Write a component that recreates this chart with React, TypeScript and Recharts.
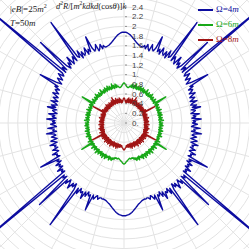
import { RadarChart, Radar, PolarGrid, PolarAngleAxis, PolarRadiusAxis } from "recharts";

// radius, clockwise from the top (0°) to the bottom (180°), every 1°
// the left half of the plot is the mirror image of this
const blueHalf = [
  1.88, 1.88, 1.87, 1.85, 1.83, 1.80, 1.77, 1.74, 1.71, 1.68, 1.66, 1.64, 1.63, 1.62, 1.62, // 0-14
  1.66, 1.60, 1.70, 1.62, 1.58, 1.73, 1.64, 1.61, 1.68, // 15-23
  1.95, // 24
  1.63, 1.70, 1.60, 1.76, 1.65, 1.62, 1.72, 1.59, 1.78, 1.64, 1.68, // 25-35
  2.57, // 36
  1.62, 1.74, 1.66, 1.60, 1.80, 1.63, 1.70, 1.58, 1.67, // 37-45
  2.4, // 46
  1.62, 1.72, 1.60, // 47-49
  3.9, // 50
  1.64, 1.58, 1.70, 1.62, 1.55, 1.66, 1.60, 1.52, 1.64, // 51-59
  2.0, // 60
  1.56, 1.62, 1.50, 1.58, 1.54, 1.48, 1.60, 1.52, 1.46, 1.56,
  1.50, 1.44, 1.58, 1.47, 1.43, 1.55, 1.45, 1.62, 1.42, 1.50,
  1.46, 1.40, 1.57, 1.44, 1.49, 1.41, 1.60, 1.43, 1.48, // 61-89
  1.42, 1.52, 1.44, 1.40, 1.58, 1.45, 1.48, 1.41, 1.62, 1.46,
  1.43, 1.53, 1.47, 1.42, 1.56, 1.49, 1.44, 1.60, 1.48, 1.52,
  1.46, 1.58, 1.50, 1.47, 1.62, 1.52, 1.55, 1.49, // 90-117
  1.95, // 118
  1.54, 1.60, 1.52, 1.66, 1.57, 1.62, 1.55, 1.70, 1.59, 1.64, 1.58, // 119-129
  3.9, // 130
  1.64, 1.70, 1.62, // 131-133
  2.43, // 134
  1.66, 1.74, 1.61, 1.68, 1.78, 1.63, 1.70, 1.60, 1.72, // 135-143
  2.6, // 144
  1.65, 1.76, 1.62, 1.70, 1.66, 1.80, 1.63, 1.72, 1.60, 1.68, 1.64, // 145-155
  1.97, // 156
  1.62, 1.70, 1.64, 1.60, 1.67, 1.63, 1.62, 1.64, 1.63, // 157-165
  1.64, 1.65, 1.67, 1.69, 1.71, 1.74, 1.77, 1.80, 1.83, 1.86, 1.88, 1.90, 1.91, 1.92, 1.92, // 166-180
];
const greenHalf = [
  0.83, 0.82, 0.80, 0.78, 0.76, 0.75, 0.74, 0.74, 0.75, 0.77, 0.76, // 0-10
  0.80, 0.75, 0.83, 0.77, 0.74, 0.81, 0.76, 0.85, 0.75, 0.79,
  0.74, 0.82, 0.77, 0.75, 0.84, 0.76, 0.80, 0.74, 0.83, 0.77,
  0.75, 0.81, 0.74, 0.79, 0.76, 0.85, 0.75, 0.78, 0.74, 0.82,
  0.76, 0.74, 0.80, 0.75, 0.84, 0.76, 0.79, 0.74, 0.81, 0.75,
  0.77, 0.74, 0.82, 0.75, 0.78, 0.73, 0.80, // 11-57
  1.02, // 58
  0.75, 0.79, 0.73, 0.81, 0.75, 0.77, 0.73, 0.80, 0.74, 0.78,
  0.73, 0.82, 0.74, 0.76, 0.73, 0.80, 0.74, 0.79, 0.72, 0.81,
  0.74, 0.77, 0.73, 0.80, 0.74, 0.78, 0.72, 0.82, 0.74, 0.76,
  0.73, 0.80, 0.74, 0.79, 0.73, 0.81, 0.75, 0.77, 0.73, 0.80,
  0.74, 0.78, 0.73, 0.82, 0.75, 0.77, 0.74, 0.81, 0.75, 0.79,
  0.74, 0.83, 0.75, 0.78, 0.74, 0.80, 0.76, 0.79, 0.75, 0.84,
  0.76, 0.78, 0.75, // 59-121
  1.03, // 122
  0.76, 0.82, 0.75, 0.79, 0.77, 0.85, 0.76, 0.80, 0.75, 0.83,
  0.77, 0.79, 0.76, 0.86, 0.75, 0.81, 0.77, 0.84, 0.76, 0.80,
  0.75, 0.83, 0.78, 0.76, 0.85, 0.77, 0.80, 0.75, 0.84, 0.76,
  0.81, 0.77, 0.79, 0.75, 0.83, 0.76, 0.80, 0.77, 0.82, 0.76,
  0.79, 0.75, 0.77, 0.74, 0.75, 0.74, 0.76, // 123-169
  0.75, 0.74, 0.75, 0.76, 0.77, 0.78, 0.80, 0.81, 0.83, 0.84, 0.85, // 170-180
];
const redHalf = [
  0.52, 0.51, 0.49, 0.46, 0.44, 0.43, 0.47, 0.42, 0.50, 0.44,
  0.46, 0.53, 0.43, 0.48, 0.45, 0.51, 0.44, 0.49, 0.43, 0.54,
  0.45, 0.50, 0.44, 0.47, 0.52, 0.43, 0.58, 0.45, 0.49, 0.44,
  0.53, 0.46, 0.43, 0.50, 0.45, 0.48, 0.43, 0.52, 0.44, 0.47,
  0.43, 0.51, 0.45, 0.48, 0.42, 0.53, 0.44, 0.49, 0.43, 0.46,
  0.51, 0.44, 0.48, 0.42, 0.50, 0.45, 0.47, 0.43, 0.52, 0.44,
  0.48, 0.45, // 0-61
  0.72, // 62
  0.46, 0.43, 0.49, 0.42, 0.47, 0.44, 0.51, 0.42, 0.46, 0.43,
  0.50, 0.44, 0.42, 0.48, 0.43, 0.52, 0.42, 0.46, 0.44, 0.49,
  0.42, 0.47, 0.43, 0.51, 0.44, 0.45, 0.42, 0.50, 0.43, 0.47,
  0.44, 0.52, 0.42, 0.48, 0.45, 0.43, 0.50, 0.44, 0.47, 0.43,
  0.53, 0.45, 0.48, 0.44, 0.51, 0.46, 0.43, 0.49, 0.45, 0.54,
  0.44, 0.48, 0.46, 0.52, 0.45, // 63-117
  0.74, // 118
  0.47, 0.50, 0.45, 0.54, 0.46, 0.49, 0.44, 0.55, 0.47, 0.50,
  0.45, 0.53, 0.46, 0.48, 0.44, 0.56, 0.47, 0.51, 0.45, 0.54,
  0.46, 0.50, 0.44, 0.55, 0.47, 0.52, 0.45, 0.49, 0.46, 0.56,
  0.45, 0.51, 0.47, 0.53, 0.44, 0.50, 0.46, 0.54, 0.45, 0.49,
  0.47, 0.52, 0.44, 0.55, 0.46, 0.50, 0.45, 0.53, 0.47, 0.49,
  0.45, 0.51, 0.46, 0.48, 0.50, 0.47, 0.49, 0.51, 0.52, 0.54,
  0.55, 0.56, // 119-180
];

const radiusTicks = [
  0, 0.2, 0.4, 0.6, 0.8, 1, 1.2, 1.4, 1.6, 1.8, 2, 2.2, 2.4,
  2.6, 2.8, 3, 3.2, 3.4, 3.6, 3.8, 4,
];
const gridAngles = [0, 15, 30, 45, 60, 75, 90, 105, 120, 135, 150, 165, 180, 195, 210, 225, 240, 255, 270, 285, 300, 315, 330, 345];

const series = [
  { key: "blue", name: "Ω=4m", color: "#0c0ca0" },
  { key: "green", name: "Ω=6m", color: "#18a818" },
  { key: "red", name: "Ω=8m", color: "#a01414" },
];

const data = Array.from({ length: 360 }, (_, a) => {
  const h = a <= 180 ? a : 360 - a;
  return { angle: a, blue: blueHalf[h], green: greenHalf[h], red: redHalf[h] };
});

const R_MAX = 4;
const OUTER = 193.2; // 48.3px per unit
const SIZE = 420;
const CX = 124;
const CY = 123;

function fmt(v: number) {
  if (v === 0) return "0.";
  if (v === 1) return "1.";
  if (v === 2) return "2";
  return v.toFixed(1);
}

const RadiusTick = (props: any) => {
  const { x, y, payload } = props;
  const v = payload.value;
  if (v > 2.45) return <g />;
  return (
    <g>
      <line x1={x + 1} x2={x + 3} y1={y} y2={y} stroke="#777" strokeWidth={0.8} />
      <text x={x + 8} y={y} dy="0.33em" fontSize={8} fill="#444" fontFamily="Liberation Sans, Arial, sans-serif">
        {fmt(v)}
      </text>
    </g>
  );
};

const serif = "'Liberation Serif', 'Times New Roman', serif";

export default function App() {
  return (
    <div style={{ position: "fixed", left: 0, top: 0, width: 249, height: 249, overflow: "hidden", background: "#fff" }}>
      <div style={{ position: "absolute", left: CX - SIZE / 2, top: CY - SIZE / 2 }}>
        <RadarChart
          width={SIZE}
          height={SIZE}
          data={data}
          outerRadius={OUTER}
          startAngle={90}
          endAngle={-270}
          margin={{ top: 0, right: 0, bottom: 0, left: 0 }}
        >
          <PolarGrid
            gridType="circle"
            stroke="#e3e3e3"
            polarAngles={gridAngles}
            polarRadius={radiusTicks.map((t) => (t * OUTER) / R_MAX)}
          />
          <PolarAngleAxis dataKey="angle" tick={false} axisLine={false} tickLine={false} />
          <PolarRadiusAxis
            type="number"
            angle={90}
            domain={[0, R_MAX]}
            ticks={radiusTicks as any}
            tickCount={21}
            axisLine={false}
            tick={RadiusTick}
          />
          {series.map((s) => (
            <Radar
              key={s.key}
              dataKey={s.key}
              name={s.name}
              stroke={s.color}
              strokeWidth={1.4}
              strokeLinejoin="round"
              fill="none"
              fillOpacity={0}
              dot={false}
              activeDot={false}
              isAnimationActive={false}
            />
          ))}
        </RadarChart>
      </div>

      <div style={{ position: "absolute", left: 10, top: 3, fontFamily: serif, fontSize: 9, color: "#222", whiteSpace: "nowrap" }}>
        |<i>eB</i>|=25<i>m</i><sup style={{ fontSize: 6 }}>2</sup>
      </div>
      <div style={{ position: "absolute", left: 10, top: 18, fontFamily: serif, fontSize: 9, color: "#222", whiteSpace: "nowrap" }}>
        <i>T</i>=50<i>m</i>
      </div>
      <div style={{ position: "absolute", left: 56, top: 0, fontFamily: serif, fontSize: 8.5, color: "#222", whiteSpace: "nowrap" }}>
        <i>d</i><sup style={{ fontSize: 5.5 }}>2</sup>
        <i>R</i>/[<i>m</i><sup style={{ fontSize: 5.5 }}>2</sup>
        <i>kdkd</i>(cos<i>θ</i>)]<i>k</i>
      </div>

      {series.map((s, i) => (
        <div key={s.key}>
          <div style={{ position: "absolute", left: 198, top: 9 + i * 15, width: 15, height: 2, background: s.color }} />
          <div style={{ position: "absolute", left: 216, top: 4 + i * 15, fontFamily: serif, fontSize: 9, color: s.color, whiteSpace: "nowrap" }}>
            Ω=<span>{4 + 2 * i}</span>
            <i>m</i>
          </div>
        </div>
      ))}
    </div>
  );
}
